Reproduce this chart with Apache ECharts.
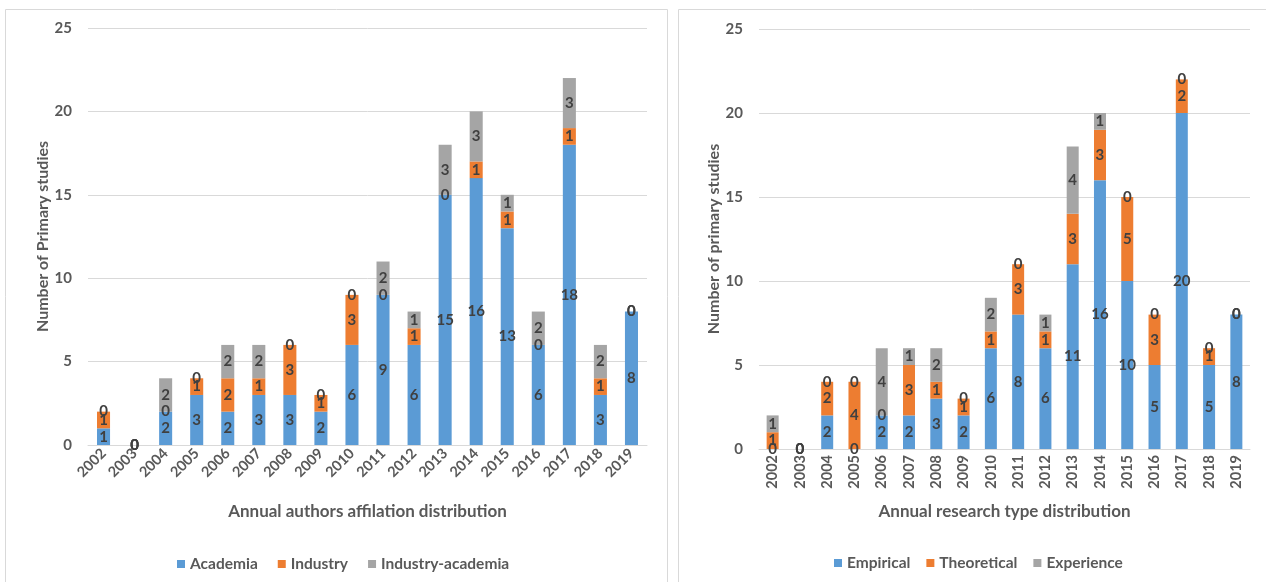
<!DOCTYPE html>
<html>
<head>
<meta charset="utf-8">
<script src="https://cdn.jsdelivr.net/npm/echarts@6/dist/echarts.min.js"></script>
<style>
  html, body { margin: 0; padding: 0; background: #fff; }
  #chart { width: 1266px; height: 582px; }
</style>
</head>
<body>
<div id="chart"></div>
<script>
// Publication years shared by both panels
const years = ['2002','2003','2004','2005','2006','2007','2008','2009','2010',
               '2011','2012','2013','2014','2015','2016','2017','2018','2019'];

// Annual authors affiliation distribution
const academia         = [1, 0, 2, 3, 2, 3, 3, 2, 6, 9, 6, 15, 16, 13, 6, 18, 3, 8];
const industry         = [1, 0, 0, 1, 2, 1, 3, 1, 3, 0, 1, 0, 1, 1, 0, 1, 1, 0];
const industryAcademia = [0, 0, 2, 0, 2, 2, 0, 0, 0, 2, 1, 3, 3, 1, 2, 3, 2, 0];

// Annual research type distribution
const empirical   = [0, 0, 2, 0, 2, 2, 3, 2, 6, 8, 6, 11, 16, 10, 5, 20, 5, 8];
const theoretical = [1, 0, 2, 4, 0, 3, 1, 1, 1, 3, 1, 3, 3, 5, 3, 2, 1, 0];
const experience  = [1, 0, 0, 0, 4, 1, 2, 0, 2, 0, 1, 4, 1, 0, 0, 0, 0, 0];

const yTicks = { min: 0, max: 25, interval: 5 };

const BLUE = '#5B9BD5', ORANGE = '#ED7D31', GRAY = '#A5A5A5';
const TEXT = '#595959', LABEL = '#404040', LINE = '#D9D9D9';
const FONT = 'Lato, "Open Sans", sans-serif';

const chart = echarts.init(document.getElementById('chart'));

function yAxis(gridIndex, name, gap) {
  return {
    type: 'value', gridIndex, min: yTicks.min, max: yTicks.max, interval: yTicks.interval,
    name, nameLocation: 'middle', nameGap: gap, nameRotate: 90,
    nameTextStyle: { color: TEXT, fontFamily: FONT, fontWeight: 'bold', fontSize: 16 },
    axisLine: { show: false }, axisTick: { show: false },
    axisLabel: { color: TEXT, fontFamily: FONT, fontWeight: 'bold', fontSize: 15, margin: 16 },
    splitLine: { lineStyle: { color: LINE, width: 1 } }
  };
}

function xAxis(gridIndex, name, gap, rotate) {
  return {
    type: 'category', gridIndex, data: years,
    name, nameLocation: 'middle', nameGap: gap,
    nameTextStyle: { color: TEXT, fontFamily: FONT, fontWeight: 'bold', fontSize: 17 },
    axisLine: { lineStyle: { color: LINE } }, axisTick: { show: false },
    axisLabel: { color: TEXT, fontFamily: FONT, fontWeight: 'bold', fontSize: 14.5,
                 rotate, interval: 0, margin: 6 }
  };
}

function bar(name, data, color, idx, stack, width) {
  return {
    name, type: 'bar', data, stack, xAxisIndex: idx, yAxisIndex: idx,
    barWidth: width, itemStyle: { color },
    label: { show: true, position: 'inside', color: LABEL, fontFamily: FONT,
             fontWeight: 'bold', fontSize: 15 }
  };
}

const legendText = { color: TEXT, fontFamily: FONT, fontWeight: 'bold', fontSize: 15.5 };

chart.setOption({
  animation: false,
  graphic: [
    { type: 'rect', shape: { x: 5.5, y: 9.5, width: 662, height: 590 },
      style: { fill: 'none', stroke: LINE, lineWidth: 1 } },
    { type: 'rect', shape: { x: 678.5, y: 9.5, width: 600, height: 590 },
      style: { fill: 'none', stroke: LINE, lineWidth: 1 } }
  ],
  grid: [
    { left: 88, right: 619, top: 28, bottom: 137 },
    { left: 759, right: 16, top: 29, bottom: 133 }
  ],
  legend: [
    { data: ['Academia', 'Industry', 'Industry-academia'], left: 172, top: 551,
      itemWidth: 8, itemHeight: 8, itemGap: 20, icon: 'rect', textStyle: legendText },
    { data: ['Empirical', 'Theoretical', 'Experience'], left: 829, top: 550,
      itemWidth: 8, itemHeight: 8, itemGap: 16, icon: 'rect', textStyle: legendText }
  ],
  xAxis: [
    xAxis(0, 'Annual authors affilation distribution', 58, 45),
    xAxis(1, 'Annual research type distribution', 54, 90)
  ],
  yAxis: [
    yAxis(0, 'Number of Primary studies', 36),
    yAxis(1, 'Number of primary studies', 36)
  ],
  series: [
    bar('Academia', academia, BLUE, 0, 'aff', '42%'),
    bar('Industry', industry, ORANGE, 0, 'aff', '42%'),
    bar('Industry-academia', industryAcademia, GRAY, 0, 'aff', '42%'),
    bar('Empirical', empirical, BLUE, 1, 'type', '44%'),
    bar('Theoretical', theoretical, ORANGE, 1, 'type', '44%'),
    bar('Experience', experience, GRAY, 1, 'type', '44%')
  ]
});
</script>
</body>
</html>
